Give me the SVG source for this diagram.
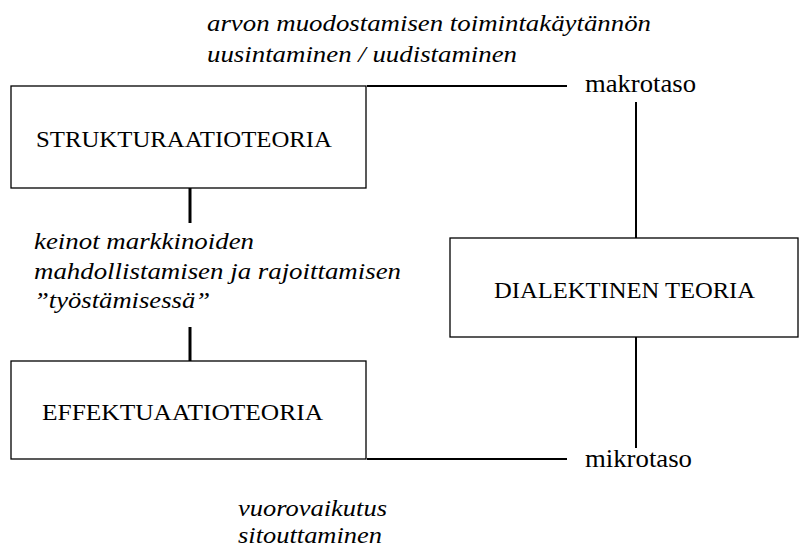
<svg xmlns="http://www.w3.org/2000/svg" width="799" height="547" viewBox="0 0 799 547">
  <style>
    .box { fill: #fff; stroke: #000; stroke-width: 1.3; }
    .line { stroke: #000; stroke-width: 2; fill: none; }
    .thick { stroke: #000; stroke-width: 3; fill: none; }
    .label { font-family: "Liberation Serif", "Times New Roman", serif; font-size: 24px; fill: #000; }
    .level { font-family: "Liberation Serif", "Times New Roman", serif; font-size: 26px; fill: #000; }
    .gloss { font-family: "Liberation Serif", "Times New Roman", serif; font-size: 24px; font-style: italic; fill: #000; }
  </style>
  <rect width="799" height="547" fill="#fff"/>

  <!-- connectors -->
  <g id="connectors">
    <line class="line" x1="367" y1="86" x2="567" y2="86"/>
    <line class="line" x1="367" y1="459" x2="567" y2="459"/>
    <line class="line" x1="636" y1="102" x2="636" y2="238"/>
    <line class="line" x1="636" y1="337" x2="636" y2="448"/>
    <line class="thick" x1="190" y1="188" x2="190" y2="223"/>
    <line class="thick" x1="190" y1="327" x2="190" y2="361"/>
  </g>

  <g id="strukturaatioteoria">
    <rect class="box" x="11" y="86" width="355" height="102"/>
    <text class="label" x="36" y="147" textLength="296" lengthAdjust="spacingAndGlyphs">STRUKTURAATIOTEORIA</text>
  </g>

  <g id="effektuaatioteoria">
    <rect class="box" x="11" y="361" width="355" height="98"/>
    <text class="label" x="42" y="420" textLength="281" lengthAdjust="spacingAndGlyphs">EFFEKTUAATIOTEORIA</text>
  </g>

  <g id="dialektinen-teoria">
    <rect class="box" x="450" y="238" width="348" height="99"/>
    <text class="label" x="494" y="298" textLength="261" lengthAdjust="spacingAndGlyphs">DIALEKTINEN TEORIA</text>
  </g>

  <g id="makrotaso">
    <text class="level" x="585" y="92" textLength="111" lengthAdjust="spacingAndGlyphs">makrotaso</text>
  </g>

  <g id="mikrotaso">
    <text class="level" x="585" y="467" textLength="107" lengthAdjust="spacingAndGlyphs">mikrotaso</text>
  </g>

  <g id="top-note">
    <text class="gloss" font-family="Liberation Serif, serif" x="207" y="31" textLength="444" lengthAdjust="spacingAndGlyphs">arvon muodostamisen toimintakäytännön</text>
    <text class="gloss" font-family="Liberation Serif, serif" x="207" y="62" textLength="310" lengthAdjust="spacingAndGlyphs">uusintaminen / uudistaminen</text>
  </g>

  <g id="middle-note">
    <text class="gloss" font-family="Liberation Serif, serif" x="34" y="249" textLength="220" lengthAdjust="spacingAndGlyphs">keinot markkinoiden</text>
    <text class="gloss" font-family="Liberation Serif, serif" x="34" y="279" textLength="367" lengthAdjust="spacingAndGlyphs">mahdollistamisen ja rajoittamisen</text>
    <text class="gloss" font-family="Liberation Serif, serif" x="34" y="308" textLength="176" lengthAdjust="spacingAndGlyphs">”työstämisessä”</text>
  </g>

  <g id="bottom-note">
    <text class="gloss" font-family="Liberation Serif, serif" x="238" y="516" textLength="149" lengthAdjust="spacingAndGlyphs">vuorovaikutus</text>
    <text class="gloss" font-family="Liberation Serif, serif" x="238" y="543" textLength="144" lengthAdjust="spacingAndGlyphs">sitouttaminen</text>
  </g>
</svg>
